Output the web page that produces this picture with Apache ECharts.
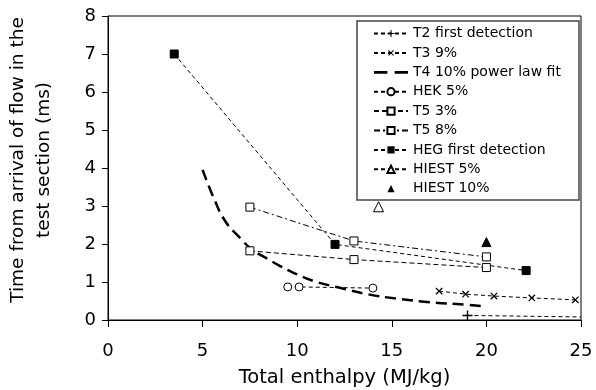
<!DOCTYPE html>
<html>
<head>
<meta charset="utf-8">
<script src="https://cdn.jsdelivr.net/npm/echarts@6/dist/echarts.min.js"></script>
<style>
  html, body { margin: 0; padding: 0; background: #fff; }
  #chart { width: 596px; height: 390px; }
</style>
</head>
<body>
<div id="chart"></div>
<script>
// values (enthalpy MJ/kg, time ms)
const t2First = [[19.0, 0.12], [25.0, 0.08]]
const t3_9 = [[17.5, 0.76], [18.9, 0.68], [20.4, 0.63], [22.4, 0.58], [24.7, 0.53]]
const t4Fit = [[5.0, 3.95], [5.6, 3.2], [6.2, 2.6], [7.0, 2.15], [7.6, 1.86], [8.4, 1.62], [9.1, 1.42],
  [10.0, 1.2], [10.9, 1.02], [12.4, 0.83], [13.7, 0.68], [15.3, 0.56], [17.0, 0.47], [19.0, 0.4], [19.7, 0.37]]
const hek5 = [[9.5, 0.87], [10.1, 0.87], [14.0, 0.84]]
const t5_3 = [[7.5, 1.82], [13.0, 1.59], [20.0, 1.38]]
const t5_8 = [[7.5, 2.97], [13.0, 2.08], [20.0, 1.66]]
const hegFirst = [[3.5, 7.0], [12.0, 1.99], [22.1, 1.3]]
const hiest5 = [[14.3, 2.98]]
const hiest10 = [[20.0, 2.05]]
const legendNames = ['T2 first detection', 'T3 9%', 'T4 10% power law fit', 'HEK 5%', 'T5 3%', 'T5 8%',
  'HEG first detection', 'HIEST 5%', 'HIEST 10%']
const xTicks = { min: 0, max: 25, interval: 5 }
const yTicks = { min: 0, max: 8, interval: 1 }

const plusPath = 'path://M4.3,0h1.4v4.3h4.3v1.4h-4.3v4.3h-1.4v-4.3h-4.3v-1.4h4.3z'
const longDash = 'path://M0,0h13v2.6h-13z M20,0h13v2.6h-13z'
const font = 'DejaVu Sans'

function thin(name, data, symbol, dash, extra) {
  return Object.assign({
    name, type: 'line', data, symbol, symbolSize: 7,
    lineStyle: { color: '#000', width: 1, type: dash },
    itemStyle: { color: '#fff', borderColor: '#000', borderWidth: 1 },
    animation: false, z: 3,
  }, extra || {})
}

// last T2 point sits on the frame without a marker
const t2Data = t2First.map((p, i) => i === t2First.length - 1 ? { value: p, symbol: 'none' } : p)

const chart = echarts.init(document.getElementById('chart'))
chart.setOption({
  textStyle: { fontFamily: font },
  grid: { left: 108, right: 15, top: 16, bottom: 70, show: true, borderColor: '#000', borderWidth: 1,
    outerBoundsMode: 'none' },
  graphic: [{ type: 'rect', shape: { x: 357, y: 21, width: 222, height: 179 },
    style: { fill: '#fff', stroke: '#444', lineWidth: 1.5 }, z: 10 }],
  legend: {
    orient: 'vertical', left: 368, top: 20, itemWidth: 34, itemHeight: 9, itemGap: 2.4,
    textStyle: { fontFamily: font, fontSize: 14, color: '#000', lineHeight: 17 }, z: 20,
    data: legendNames.map(n => n === 'T4 10% power law fit' ? { name: n, icon: longDash } : n),
  },
  xAxis: {
    type: 'value', ...xTicks,
    name: 'Total enthalpy (MJ/kg)', nameLocation: 'middle', nameGap: 48,
    nameTextStyle: { fontSize: 19.5, color: '#000', fontFamily: font },
    axisLine: { lineStyle: { color: '#000' } },
    axisTick: { show: true, length: 7, lineStyle: { color: '#000' } },
    axisLabel: { fontSize: 18, color: '#000', margin: 22, fontFamily: font },
    splitLine: { show: false },
  },
  yAxis: {
    type: 'value', ...yTicks,
    name: 'Time from arrival of flow in the\ntest section (ms)', nameLocation: 'middle', nameGap: 51,
    nameTextStyle: { fontSize: 18.5, color: '#000', fontFamily: font, lineHeight: 26, padding: [0, 0, 0, 16] },
    axisLine: { show: true, lineStyle: { color: '#000' } },
    axisTick: { show: true, length: 6, lineStyle: { color: '#000' } },
    axisLabel: { fontSize: 18, color: '#000', margin: 12, fontFamily: font },
    splitLine: { show: false },
  },
  series: [
    thin('T2 first detection', t2Data, plusPath, [4, 3], { symbolSize: 10, itemStyle: { color: '#000' } }),
    thin('T3 9%', t3_9, plusPath, [4, 3], { symbolSize: 9, symbolRotate: 45, itemStyle: { color: '#000' } }),
    { name: 'T4 10% power law fit', type: 'line', data: t4Fit, showSymbol: false, smooth: true,
      lineStyle: { color: '#000', width: 2.5, type: [11, 6] }, itemStyle: { color: '#000' }, animation: false, z: 2 },
    thin('HEK 5%', hek5, 'circle', [4, 3], { symbolSize: 8 }),
    thin('T5 3%', t5_3, 'rect', [5, 3], { symbolSize: 8 }),
    thin('T5 8%', t5_8, 'rect', [6, 3, 2, 3], { symbolSize: 8 }),
    thin('HEG first detection', hegFirst, 'rect', [4, 3], { symbolSize: 8, itemStyle: { color: '#000', borderColor: '#000' } }),
    thin('HIEST 5%', hiest5, 'triangle', [4, 3], { symbolSize: 10 }),
    thin('HIEST 10%', hiest10, 'triangle', [4, 3], { symbolSize: 9, lineStyle: { opacity: 0 },
      itemStyle: { color: '#000', borderColor: '#000' } }),
  ],
})
</script>
</body>
</html>
